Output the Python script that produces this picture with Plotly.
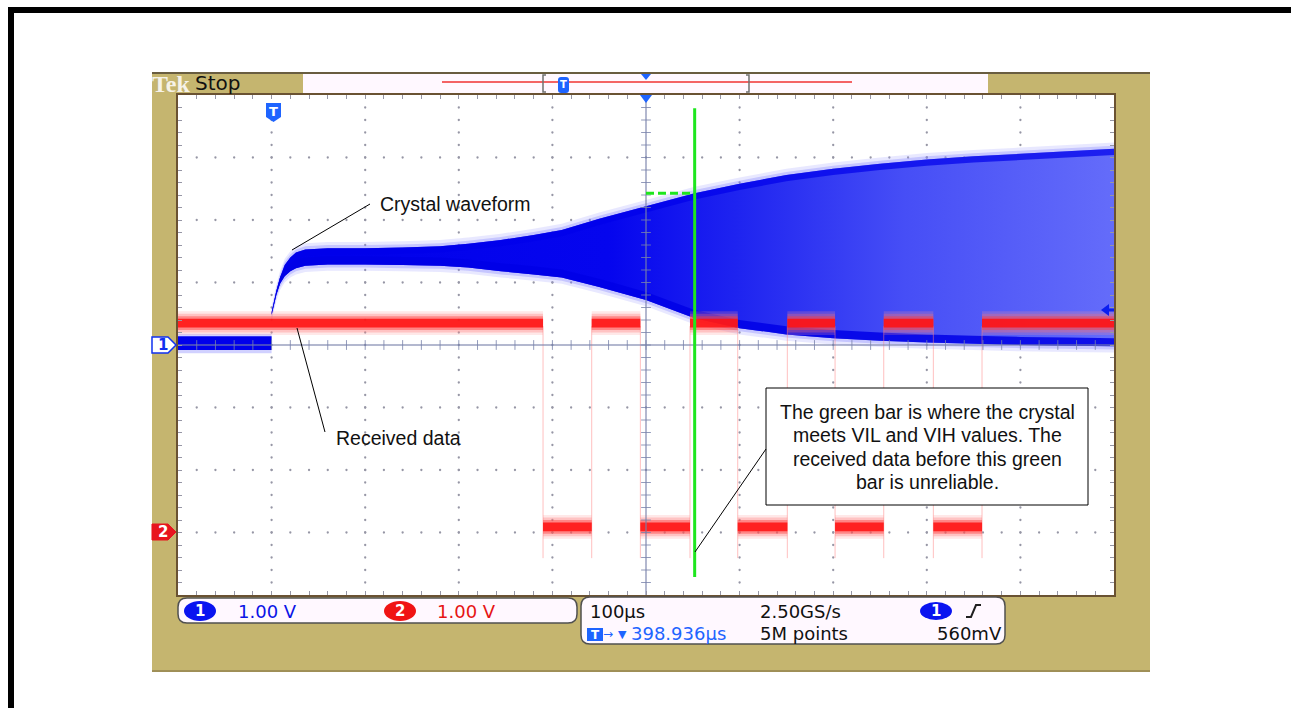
import plotly.graph_objects as go

# ---------------- data (screen divisions: x = 100 us/div, y = 1 V/div) ----------------
# Channel 1 - crystal waveform envelope
ch1_pre_t = [0.0, 1.0]
ch1_pre_hi = [0.14, 0.14]
ch1_pre_lo = [-0.08, -0.08]
ch1_t = [1.00, 1.05, 1.09, 1.14, 1.20, 1.26, 1.36, 1.60, 2.00, 2.40, 2.80, 3.10, 3.45,
         3.80, 4.10, 4.50, 5.00, 5.52, 6.00, 6.50, 7.00, 7.50, 8.00, 8.50, 9.00, 9.50, 10.00]
ch1_hi = [0.52, 0.86, 1.08, 1.28, 1.40, 1.48, 1.53, 1.55, 1.55, 1.56, 1.58, 1.62, 1.68,
          1.76, 1.84, 2.02, 2.22, 2.43, 2.58, 2.72, 2.82, 2.90, 2.97, 3.02, 3.06, 3.10, 3.14]
ch1_lo = [0.48, 0.80, 0.98, 1.10, 1.18, 1.23, 1.27, 1.29, 1.29, 1.28, 1.27, 1.24, 1.18,
          1.13, 1.08, 0.93, 0.72, 0.43, 0.27, 0.17, 0.11, 0.07, 0.04, 0.02, 0.00, -0.01, -0.02]

# Channel 2 - received data (square wave)
ch2_edges = [3.90, 4.42, 4.94, 5.47, 5.98, 6.51, 7.02, 7.54, 8.07, 8.59]
ch2_position = -3.0      # ground marker position (div)
ch2_high_v = 3.35        # V
ch2_low_v = 0.09         # V

# Green marker (VIL/VIH reached)
green_t = 5.52
green_level = 2.43
green_span = [-3.71, 3.79]

# Trigger
trig_t = 1.0
trig_level = 0.56

# Readouts
ch_scale = ["1.00 V", "1.00 V"]
timebase = "100µs"
sample_rate = "2.50GS/s"
record_len = "5M points"
trig_pos = "398.936µs"
trig_volt = "560mV"

# ---------------- geometry helpers ----------------
PL, PR, PT, PB = 178, 1114, 95, 595


def X(px):
    return (px - PL) / (PR - PL)


def Y(py):
    return (PB - py) / (PB - PT)


fig = go.Figure()
NOHOVER = dict(hoverinfo="skip", showlegend=False)

# ---------------- graticule dots ----------------
gx, gy = [], []
for k in range(1, 10):
    if k == 5:
        continue
    for j in range(-19, 20):
        gx.append(k)
        gy.append(j * 0.2)
for k in range(-3, 4):
    if k == 0:
        continue
    for j in range(1, 50):
        gx.append(j * 0.2)
        gy.append(k)
fig.add_trace(go.Scatter(x=gx, y=gy, mode="markers",
                         marker=dict(size=2.3, color="rgb(150,150,165)"), **NOHOVER))


def band(t, hi, lo):
    return list(t) + list(t)[::-1], list(hi) + list(lo)[::-1]


# ---------------- channel 1 (blue) ----------------
# halo
hx, hy = band(ch1_t, [v + 0.10 for v in ch1_hi], [v - 0.10 for v in ch1_lo])
fig.add_trace(go.Scatter(x=hx, y=hy, fill="toself", mode="none",
                         fillcolor="rgba(150,150,255,0.22)", **NOHOVER))
hx, hy = band(ch1_t, [v + 0.05 for v in ch1_hi], [v - 0.05 for v in ch1_lo])
fig.add_trace(go.Scatter(x=hx, y=hy, fill="toself", mode="none",
                         fillcolor="rgba(120,120,255,0.3)", **NOHOVER))
hx, hy = band(ch1_pre_t, [v + 0.04 for v in ch1_pre_hi], [v - 0.05 for v in ch1_pre_lo])
fig.add_trace(go.Scatter(x=hx, y=hy, fill="toself", mode="none",
                         fillcolor="rgba(140,140,255,0.4)", **NOHOVER))
# main envelope
mx, my = band(ch1_t, ch1_hi, ch1_lo)
fig.add_trace(go.Scatter(
    x=mx, y=my, fill="toself", mode="none",
    fillgradient=dict(type="horizontal", start=1.0, stop=10.0,
                      colorscale=[[0, "rgb(0,0,235)"], [0.40, "rgb(5,5,238)"],
                                  [0.55, "rgb(30,35,240)"], [0.75, "rgb(70,78,246)"],
                                  [1, "rgb(100,108,250)"]]),
    **NOHOVER))
# dense edges
ub = [max(l, h - 0.10) for h, l in zip(ch1_hi, ch1_lo)]
ux, uy = band(ch1_t, ch1_hi, ub)
fig.add_trace(go.Scatter(x=ux, y=uy, fill="toself", mode="none",
                         fillcolor="rgba(0,0,235,0.7)", **NOHOVER))
lb = [min(h, l + 0.13) for h, l in zip(ch1_hi, ch1_lo)]
lx, ly = band(ch1_t, lb, ch1_lo)
fig.add_trace(go.Scatter(x=lx, y=ly, fill="toself", mode="none",
                         fillcolor="rgba(0,0,230,0.85)", **NOHOVER))
px_, py_ = band(ch1_pre_t, ch1_pre_hi, ch1_pre_lo)
fig.add_trace(go.Scatter(x=px_, y=py_, fill="toself", mode="none",
                         fillcolor="rgb(0,0,235)", **NOHOVER))

# ---------------- channel 2 (red) ----------------
bounds = [0.0] + ch2_edges + [10.0]
hi_y = ch2_position + ch2_high_v
lo_y = ch2_position + ch2_low_v
segs = []
for i in range(len(bounds) - 1):
    segs.append((bounds[i], bounds[i + 1], hi_y if i % 2 == 0 else lo_y))


def rects(hw):
    xs, ys = [], []
    for a, b, c in segs:
        xs += [a, b, b, a, a, None]
        ys += [c + hw, c + hw, c - hw, c - hw, c + hw, None]
    return xs, ys


ex, ey = [], []
for e in ch2_edges:
    ex += [e, e, None]
    ey += [hi_y - 0.05, lo_y - 0.50, None]
fig.add_trace(go.Scatter(x=ex, y=ey, mode="lines",
                         line=dict(color="rgba(255,130,130,0.5)", width=1), **NOHOVER))
for hw, col in [(0.19, "rgba(255,150,150,0.22)"), (0.15, "rgba(255,110,110,0.3)"),
                (0.11, "rgba(255,60,60,0.45)"), (0.07, "rgba(255,15,15,0.85)")]:
    rx, ry = rects(hw)
    fig.add_trace(go.Scatter(x=rx, y=ry, fill="toself", mode="none",
                             fillcolor=col, **NOHOVER))

# ---------------- centre graticule lines ----------------
fig.add_trace(go.Scatter(x=[5, 5], y=[-4, 4], mode="lines",
                         line=dict(color="rgba(120,130,170,0.75)", width=1.5), **NOHOVER))
fig.add_trace(go.Scatter(x=[0, 10], y=[0, 0], mode="lines",
                         line=dict(color="rgba(120,130,170,0.75)", width=1.5), **NOHOVER))
fig.add_trace(go.Scatter(x=[5] * 39, y=[j * 0.2 for j in range(-19, 20)], mode="markers",
                         marker=dict(symbol="line-ew", size=7,
                                     line=dict(color="rgba(120,130,170,0.8)", width=1)),
                         **NOHOVER))
fig.add_trace(go.Scatter(x=[j * 0.2 for j in range(1, 50)], y=[0] * 49, mode="markers",
                         marker=dict(symbol="line-ns", size=7,
                                     line=dict(color="rgba(120,130,170,0.8)", width=1)),
                         **NOHOVER))

# ---------------- green marker ----------------
fig.add_trace(go.Scatter(x=[green_t, green_t], y=green_span, mode="lines",
                         line=dict(color="#1EE61E", width=3), **NOHOVER))
fig.add_trace(go.Scatter(x=[5.0, green_t], y=[green_level, green_level], mode="lines",
                         line=dict(color="#1EE61E", width=3, dash="8px,4px"), **NOHOVER))

# ---------------- shapes ----------------
shapes = []


def rect(x0, y0, x1, y1, fill, line=None, lw=0, layer="above"):
    shapes.append(dict(type="rect", xref="paper", yref="paper",
                       x0=X(x0), x1=X(x1), y0=Y(y1), y1=Y(y0), fillcolor=fill,
                       line=dict(color=line or fill, width=lw), layer=layer))


def path(pts, fill=None, line="black", lw=1, close=False, layer="above"):
    d = "M " + " L ".join(f"{X(a):.5f},{Y(b):.5f}" for a, b in pts) + (" Z" if close else "")
    s = dict(type="path", xref="paper", yref="paper", path=d, layer=layer,
             line=dict(color=line, width=lw))
    if fill:
        s["fillcolor"] = fill
    shapes.append(s)


def rrect(x0, y0, x1, y1, r, fill, line, lw):
    p = (f"M {X(x0+r)},{Y(y0)} L {X(x1-r)},{Y(y0)} Q {X(x1)},{Y(y0)} {X(x1)},{Y(y0+r)} "
         f"L {X(x1)},{Y(y1-r)} Q {X(x1)},{Y(y1)} {X(x1-r)},{Y(y1)} L {X(x0+r)},{Y(y1)} "
         f"Q {X(x0)},{Y(y1)} {X(x0)},{Y(y1-r)} L {X(x0)},{Y(y0+r)} Q {X(x0)},{Y(y0)} {X(x0+r)},{Y(y0)} Z")
    shapes.append(dict(type="path", xref="paper", yref="paper", path=p, fillcolor=fill,
                       line=dict(color=line, width=lw), layer="above"))


def ellipse(x0, y0, x1, y1, fill):
    shapes.append(dict(type="circle", xref="paper", yref="paper", x0=X(x0), x1=X(x1),
                       y0=Y(y1), y1=Y(y0), fillcolor=fill, line=dict(color=fill, width=0),
                       layer="above"))


# page frame and bezel
rect(8, 7, 1291, 13, "black", layer="below")
rect(8, 7, 14, 708, "black", layer="below")
rect(152, 72, 1150, 672, "#C5B56F", layer="below")
rect(PL, PT, PR, PB, "white", layer="below")
path([(152, 73), (1150, 73)], line="#4a4030", lw=1.5)
path([(152, 671), (1150, 671)], line="#7a6a40", lw=1)

# top record strip
rect(303, 74, 988, 93, "#FFF8FF")
path([(442, 82), (852, 82)], line="rgb(240,50,50)", lw=1.5)
path([(546, 75), (543, 75), (543, 92), (546, 92)], line="#707070", lw=1.5)
path([(746, 75), (749, 75), (749, 92), (746, 92)], line="#707070", lw=1.5)
rrect(558, 77, 569, 93, 3, "#1E64FF", "#1E64FF", 0)
path([(641, 74), (651, 74), (646, 80)], fill="#1E64FF", line="#1E64FF", lw=0, close=True)

# markers in graticule
path([(640, 95), (652, 95), (646, 103)], fill="#1E64FF", line="#1E64FF", lw=0, close=True)
path([(266, 103), (281, 103), (281, 117), (273.5, 122), (266, 117)], fill="#1E64FF",
     line="#1E64FF", lw=0, close=True)
path([(1101, 310), (1109, 304), (1109, 316)], fill="#0A1EF0", line="#0A1EF0", lw=0, close=True)
path([(1108, 310), (1114, 310)], line="#0A1EF0", lw=3)

# channel markers
path([(152, 337), (168, 337), (176, 345), (168, 353), (152, 353)], fill="white",
     line="#1030F0", lw=1.5, close=True)
path([(152, 524), (168, 524), (176, 532), (168, 540), (152, 540)], fill="#E8141E",
     line="#E8141E", lw=1, close=True)

# note box and pointer lines
rect(766, 388, 1088, 505, "white", line="black", lw=1)
path([(292, 250), (370, 204)], line="black", lw=1)
path([(297, 328), (325, 432)], line="black", lw=1)
path([(695, 552), (766, 449)], line="black", lw=1)

# readout boxes
rrect(178, 598, 577, 623, 9, "#FFF8FF", "#505050", 1.5)
rrect(581, 597, 1005, 644, 9, "#FFF8FF", "#505050", 1.5)
ellipse(184, 601, 216, 621, "#0A14F0")
ellipse(384, 601, 416, 621, "#F01414")
ellipse(920, 602, 952, 620, "#0A14F0")
rect(587, 628, 603, 641, "#1E64FF")
path([(966, 617), (971, 617), (976, 605), (981, 605)], line="#202020", lw=2)


# ---------------- text ----------------
def txt(s, x, y, size, color, family="DejaVu Sans", xanchor="left"):
    fig.add_annotation(text=s, x=X(x), y=Y(y), xref="paper", yref="paper",
                       xanchor=xanchor, yanchor="middle", showarrow=False,
                       font=dict(family=family, size=size, color=color))


txt("<b>Tek</b>", 171, 84, 24, "#F6F2E8", family="Liberation Serif", xanchor="center")
txt("Stop", 193, 83, 20, "#111111")
txt("<b>T</b>", 563.5, 85, 10, "white", xanchor="center")
txt("<b>T</b>", 273.5, 111, 13, "white", xanchor="center")
txt("<b>1</b>", 163, 345, 15, "#1030F0", xanchor="center")
txt("<b>2</b>", 163, 532, 15, "white", xanchor="center")

ARIAL = "Liberation Sans"
txt("Crystal waveform", 378, 204, 19.5, "#111111", family=ARIAL)
txt("Received data", 334, 438, 19.5, "#111111", family=ARIAL)
note = ["The green bar is where the crystal", "meets VIL and VIH values. The",
        "received data before this green", "bar is unreliable."]
for i, line in enumerate(note):
    txt(line, 927, 412 + i * 23.3, 19.5, "#111111", family=ARIAL, xanchor="center")

txt("<b>1</b>", 200, 611, 15, "white", xanchor="center")
txt(ch_scale[0], 236, 611, 18, "#0A14E6")
txt("<b>2</b>", 400, 611, 15, "white", xanchor="center")
txt(ch_scale[1], 435, 611, 18, "#E61414")
txt(timebase, 588, 611, 18, "#111111")
txt(sample_rate, 758, 611, 18, "#111111")
txt("<b>1</b>", 936, 611, 15, "white", xanchor="center")
txt("<b>T</b>", 595, 634.5, 12, "white", xanchor="center")
txt("→", 608, 634, 12, "#1E64FF", xanchor="center")
txt("▼", 622, 634, 11, "#1E64FF", xanchor="center")
txt(trig_pos, 629, 633, 18, "#1E64FF")
txt(record_len, 758, 633, 18, "#111111")
txt(trig_volt, 1004, 633, 18, "#111111", xanchor="right")

# ---------------- layout ----------------
axis_common = dict(showgrid=False, zeroline=False, showticklabels=False, ticks="inside",
                   tickmode="linear", tick0=0, dtick=0.2, ticklen=4,
                   tickcolor="rgb(150,150,165)", tickwidth=1, showline=True,
                   linecolor="#6a5232", linewidth=2, mirror="allticks", fixedrange=True)
fig.update_layout(
    width=1291, height=708,
    margin=dict(l=PL, r=1291 - PR, t=PT, b=708 - PB, pad=0),
    paper_bgcolor="white", plot_bgcolor="white", showlegend=False,
    xaxis=dict(range=[0, 10], **axis_common),
    yaxis=dict(range=[-4, 4], **axis_common),
    shapes=shapes,
)

fig.write_html("out.html", config={"displayModeBar": False},
               post_script="document.body.style.margin='0';")
